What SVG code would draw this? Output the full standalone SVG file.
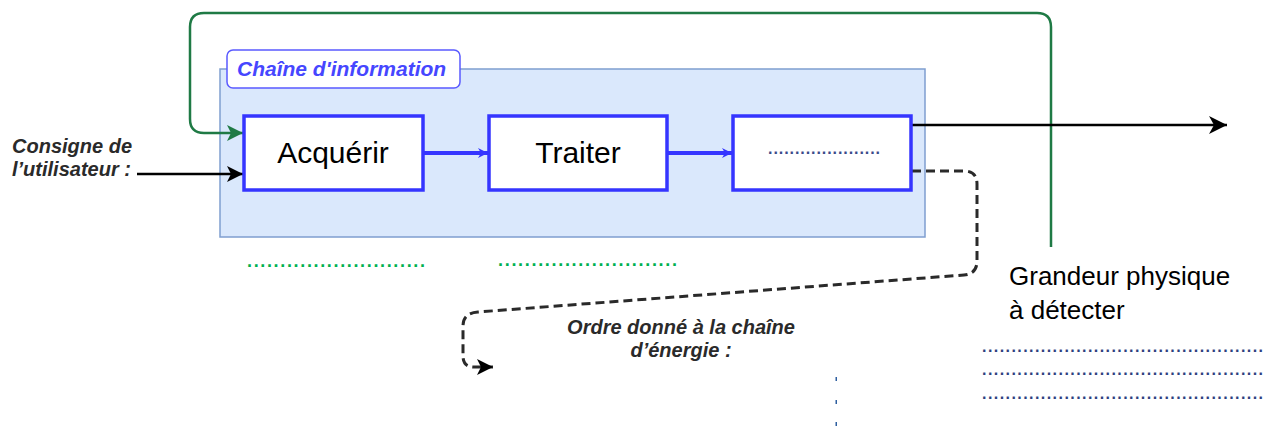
<svg xmlns="http://www.w3.org/2000/svg" width="1277" height="426" viewBox="0 0 1277 426">
<style>
.box{fill:#ffffff;stroke:#3535ff;stroke-width:3.5}
.big{font-family:"Liberation Sans",Arial,sans-serif;font-size:30px;fill:#000;text-anchor:middle}
.lbl{font-family:"Liberation Sans",Arial,sans-serif;font-weight:bold;font-style:italic;font-size:20px;fill:#2a2a2a}
.dots{font-family:"Liberation Sans",Arial,sans-serif;font-weight:bold}
</style>
<defs>
<marker id="ablack" markerUnits="userSpaceOnUse" markerWidth="20" markerHeight="18" refX="18" refY="9" orient="auto">
<path d="M0,0 L18,9 L0,18 L5,9 z" fill="#000"/>
</marker>
<marker id="ablack2" markerUnits="userSpaceOnUse" markerWidth="18" markerHeight="16" refX="16" refY="8" orient="auto">
<path d="M0,0 L16,8 L0,16 L4,8 z" fill="#000"/>
</marker>
<marker id="agreen" markerUnits="userSpaceOnUse" markerWidth="18" markerHeight="16" refX="16" refY="8" orient="auto">
<path d="M0,0 L16,8 L0,16 L4,8 z" fill="#1f7a45"/>
</marker>
<marker id="ablue" markerUnits="userSpaceOnUse" markerWidth="12" markerHeight="10" refX="10" refY="5" orient="auto">
<path d="M0,0 L10,5 L0,10 L3,5 z" fill="#3535ff"/>
</marker>
</defs>

<g id="container">
<rect x="220" y="69" width="705" height="168" fill="#dae8fc" stroke="#7f9ed0" stroke-width="1.5"/>
</g>
<g id="tab">
<rect x="227" y="50" width="233" height="38" rx="6" fill="#ffffff" stroke="#5a5aff" stroke-width="1.5"/>
<text x="237" y="76" font-family="Liberation Sans,Arial,sans-serif" font-weight="bold" font-style="italic" font-size="21" fill="#4646ff">Chaîne d'information</text>
</g>

<g id="connectors" fill="none">
<path d="M1051,247 V27 Q1051,13 1037,13 H204 Q190,13 190,27 V119 Q190,133 204,133 H243" stroke="#1f7a45" stroke-width="2.5" marker-end="url(#agreen)"/>
<path d="M137,174 H243" stroke="#000" stroke-width="2.5" marker-end="url(#ablack2)"/>
<path d="M424,153 H488" stroke="#3535ff" stroke-width="4" marker-end="url(#ablue)"/>
<path d="M668,153 H732" stroke="#3535ff" stroke-width="4" marker-end="url(#ablue)"/>
<path d="M912,125 H1227" stroke="#000" stroke-width="2.5" marker-end="url(#ablack)"/>
<path d="M912,171 H964 Q977,171 977,184 V261 Q977,274 964,275 L478,312 Q463,313 463,326 V356 Q463,367 474,367 H493" stroke="#2a2a2a" stroke-width="3" stroke-dasharray="9 5" marker-end="url(#ablack2)"/>
</g>

<g id="acquerir">
<rect class="box" x="244" y="116" width="179" height="74"/>
<text class="big" x="333" y="163">Acquérir</text>
</g>
<g id="traiter">
<rect class="box" x="489" y="116" width="178" height="74"/>
<text class="big" x="578" y="163">Traiter</text>
</g>
<g id="troisieme">
<rect class="box" x="733" y="116" width="178" height="74"/>
<text class="dots" x="768" y="154" font-size="16" fill="#3a4a8a" textLength="112" lengthAdjust="spacing">.....................</text>
</g>

<g id="consigne">
<text class="lbl" x="12" y="153">Consigne de</text>
<text class="lbl" x="12" y="176">l’utilisateur :</text>
</g>

<g id="blancs-verts">
<text class="dots" x="247" y="267" font-size="18" fill="#00b050" textLength="178" lengthAdjust="spacing">...........................</text>
<text class="dots" x="498" y="266" font-size="18" fill="#00b050" textLength="179" lengthAdjust="spacing">...........................</text>
</g>

<g id="ordre">
<text class="lbl" x="681" y="334" text-anchor="middle">Ordre donné à la chaîne</text>
<text class="lbl" x="681" y="357" text-anchor="middle">d’énergie :</text>
</g>

<g id="grandeur">
<text x="1009" y="285" font-family="Liberation Sans,Arial,sans-serif" font-size="26" fill="#000">Grandeur physique</text>
<text x="1009" y="319" font-family="Liberation Sans,Arial,sans-serif" font-size="26" fill="#000">à détecter</text>
</g>

<g id="blancs-droite">
<text class="dots" x="982" y="352" font-size="16" fill="#2e3f7f" textLength="281" lengthAdjust="spacing">................................................</text>
<text class="dots" x="982" y="375" font-size="16" fill="#2e3f7f" textLength="281" lengthAdjust="spacing">................................................</text>
<text class="dots" x="982" y="399" font-size="16" fill="#2e3f7f" textLength="281" lengthAdjust="spacing">................................................</text>
</g>

<g id="traits">
<rect x="835.5" y="377" width="1.5" height="4" fill="#2e5fa0"/>
<rect x="835.5" y="400" width="1.5" height="4" fill="#2e5fa0"/>
<rect x="835.5" y="422" width="1.5" height="4" fill="#2e5fa0"/>
</g>
</svg>
